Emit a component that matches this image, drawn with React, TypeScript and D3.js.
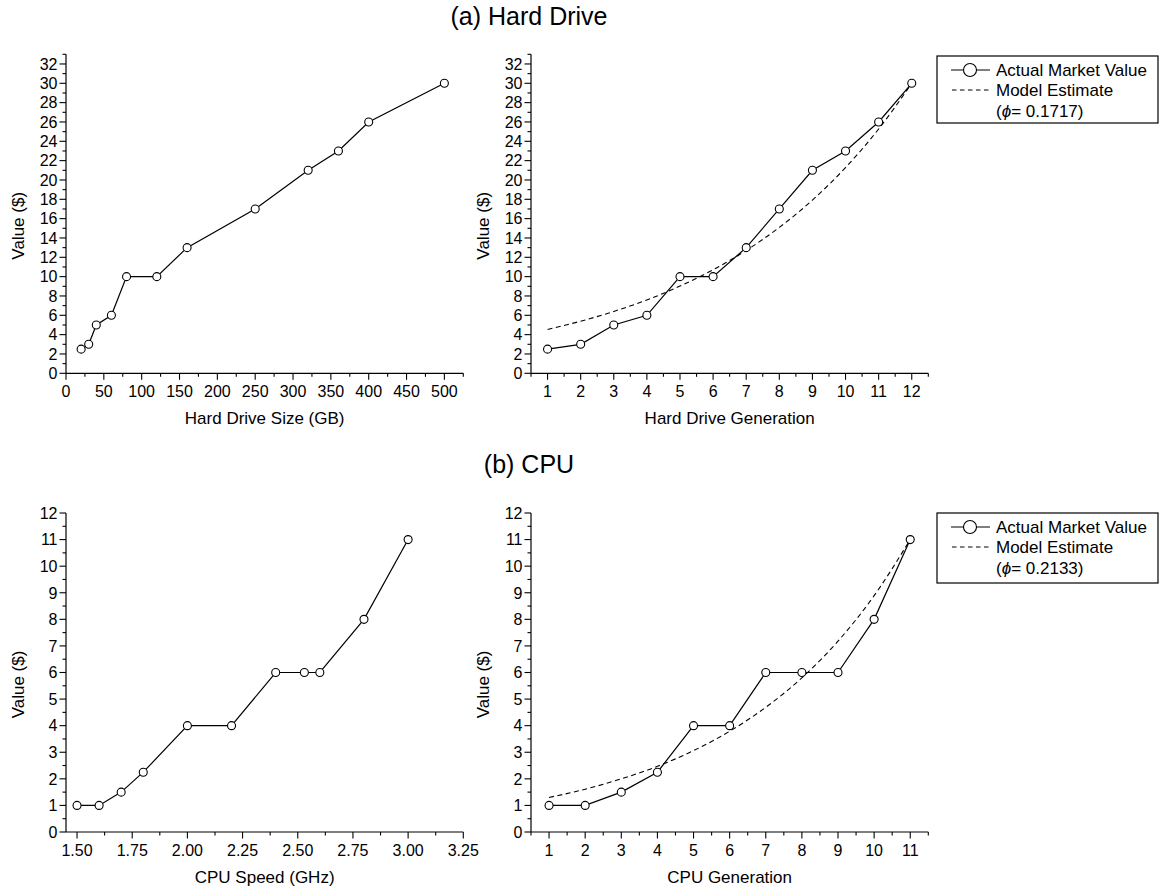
import React, { useEffect } from 'react';
import * as d3 from 'd3';

// ---------- data ----------
const hdSizes = [20, 30, 40, 60, 80, 120, 160, 250, 320, 360, 400, 500];
const hdValues = [2.5, 3, 5, 6, 10, 10, 13, 17, 21, 23, 26, 30];
const hdGenerations = [1, 2, 3, 4, 5, 6, 7, 8, 9, 10, 11, 12];
const hdModel = [4.54, 5.39, 6.4, 7.59, 9.02, 10.71, 12.71, 15.09, 17.92, 21.28, 25.27, 30];
const hdPhi = '0.1717';

const cpuSpeeds = [1.5, 1.6, 1.7, 1.8, 2.0, 2.2, 2.4, 2.53, 2.6, 2.8, 3.0];
const cpuValues = [1, 1, 1.5, 2.25, 4, 4, 6, 6, 6, 8, 11];
const cpuGenerations = [1, 2, 3, 4, 5, 6, 7, 8, 9, 10, 11];
const cpuModel = [1.3, 1.61, 2.0, 2.47, 3.06, 3.79, 4.69, 5.8, 7.18, 8.89, 11];
const cpuPhi = '0.2133';

// tick labels
const hdValueTicks = [0, 2, 4, 6, 8, 10, 12, 14, 16, 18, 20, 22, 24, 26, 28, 30, 32];
const hdSizeTicks = [0, 50, 100, 150, 200, 250, 300, 350, 400, 450, 500];
const hdGenTicks = [1, 2, 3, 4, 5, 6, 7, 8, 9, 10, 11, 12];
const cpuValueTicks = [0, 1, 2, 3, 4, 5, 6, 7, 8, 9, 10, 11, 12];
const cpuSpeedTicks = [1.5, 1.75, 2.0, 2.25, 2.5, 2.75, 3.0, 3.25];
const cpuGenTicks = [1, 2, 3, 4, 5, 6, 7, 8, 9, 10, 11];

const FONT = '"Liberation Sans", Arial, Helvetica, sans-serif';

type PanelProps = {
  left: number;
  right: number;
  top: number;
  bottom: number;
  xDomain: [number, number];
  yDomain: [number, number];
  xTicks: number[];
  xMinorStep: number;
  yTicks: number[];
  yMinorStep: number;
  xFormat: (v: number) => string;
  xLabel: string;
  xs: number[];
  ys: number[];
  model?: number[];
};

function minorTicks(domain: [number, number], step: number, majors: number[]) {
  const out: number[] = [];
  const start = Math.ceil((domain[0] - 1e-9) / step) * step;
  for (let v = start; v <= domain[1] + 1e-9; v += step) {
    const r = Math.round(v * 1000) / 1000;
    if (!majors.some((m) => Math.abs(m - r) < 1e-6)) out.push(r);
  }
  return out;
}

function Panel(p: PanelProps) {
  const x = d3.scaleLinear().domain(p.xDomain).range([p.left, p.right]);
  const y = d3.scaleLinear().domain(p.yDomain).range([p.bottom, p.top]);
  const line = d3
    .line<number>()
    .x((_, i) => x(p.xs[i]))
    .y((d) => y(d));
  const modelLine = d3
    .line<number>()
    .x((_, i) => x(p.xs[i]))
    .y((d) => y(d))
    .curve(d3.curveMonotoneX);
  const xMinor = minorTicks(p.xDomain, p.xMinorStep, p.xTicks);
  const yMinor = minorTicks(p.yDomain, p.yMinorStep, p.yTicks);
  const midY = (p.top + p.bottom) / 2 + 12;
  return (
    <g>
      {/* axes */}
      <line x1={p.left} x2={p.left} y1={p.top} y2={p.bottom} stroke="#000" strokeWidth={1.2} />
      <line x1={p.left} x2={p.right} y1={p.bottom} y2={p.bottom} stroke="#000" strokeWidth={1.2} />
      {p.yTicks.map((t) => (
        <g key={'yt' + t}>
          <line x1={p.left - 6.5} x2={p.left} y1={y(t)} y2={y(t)} stroke="#000" strokeWidth={1.1} />
          <text x={p.left - 8.5} y={y(t)} dy="0.36em" textAnchor="end" fontSize={16} fontFamily={FONT}>
            {t}
          </text>
        </g>
      ))}
      {yMinor.map((t) => (
        <line key={'ym' + t} x1={p.left - 3.5} x2={p.left} y1={y(t)} y2={y(t)} stroke="#000" strokeWidth={1.1} />
      ))}
      {p.xTicks.map((t) => (
        <g key={'xt' + t}>
          <line x1={x(t)} x2={x(t)} y1={p.bottom} y2={p.bottom + 6.5} stroke="#000" strokeWidth={1.1} />
          <text x={x(t)} y={p.bottom + 23.5} textAnchor="middle" fontSize={16} fontFamily={FONT}>
            {p.xFormat(t)}
          </text>
        </g>
      ))}
      {xMinor.map((t) => (
        <line key={'xm' + t} x1={x(t)} x2={x(t)} y1={p.bottom} y2={p.bottom + 3.5} stroke="#000" strokeWidth={1.1} />
      ))}
      <text
        x={(p.left + p.right) / 2}
        y={p.bottom + 51}
        textAnchor="middle"
        fontSize={17}
        fontFamily={FONT}
      >
        {p.xLabel}
      </text>
      <text
        transform={`translate(${p.left - 42},${midY}) rotate(-90)`}
        textAnchor="middle"
        fontSize={17}
        fontFamily={FONT}
      >
        Value ($)
      </text>
      {/* series */}
      {p.model && (
        <path d={modelLine(p.model) || ''} fill="none" stroke="#000" strokeWidth={1.1} strokeDasharray="5,3.5" />
      )}
      <path d={line(p.ys) || ''} fill="none" stroke="#000" strokeWidth={1.2} />
      {p.ys.map((v, i) => (
        <circle key={'c' + i} cx={x(p.xs[i])} cy={y(v)} r={4} fill="#fff" stroke="#000" strokeWidth={1.1} />
      ))}
    </g>
  );
}

function Legend({ left, right, top, bottom, phi }: { left: number; right: number; top: number; bottom: number; phi: string }) {
  const r1 = top + 14;
  const r2 = top + 34;
  const r3 = top + 55;
  return (
    <g fontFamily={FONT} fontSize={17}>
      <rect x={left} y={top} width={right - left} height={bottom - top} fill="#fff" stroke="#000" strokeWidth={1.2} />
      <line x1={left + 14} x2={left + 53} y1={r1} y2={r1} stroke="#000" strokeWidth={1.2} />
      <circle cx={left + 33} cy={r1} r={6.5} fill="#fff" stroke="#000" strokeWidth={1.1} />
      <text x={left + 59} y={r1 + 6}>Actual Market Value</text>
      <line x1={left + 15} x2={left + 53} y1={r2} y2={r2} stroke="#000" strokeWidth={1.1} strokeDasharray="4.5,3.5" />
      <text x={left + 59} y={r2 + 6}>Model Estimate</text>
      <text x={left + 59} y={r3 + 6}>
        (<tspan fontStyle="italic">ϕ</tspan>= {phi})
      </text>
    </g>
  );
}

export default function App() {
  useEffect(() => {
    document.body.style.margin = '0';
  }, []);
  const fmt0 = (v: number) => String(v);
  const fmt2 = (v: number) => d3.format('.2f')(v);
  return (
    <svg width={1164} height={895} style={{ display: 'block', background: '#fff' }}>
      <rect width={1164} height={895} fill="#fff" />
      <text x={529} y={25} textAnchor="middle" fontSize={25} fontFamily={FONT}>
        (a) Hard Drive
      </text>
      <text x={529} y={473} textAnchor="middle" fontSize={25} fontFamily={FONT}>
        (b) CPU
      </text>
      <Panel
        left={66}
        right={463.3}
        top={54.3}
        bottom={373.3}
        xDomain={[0, 525]}
        yDomain={[0, 33]}
        xTicks={hdSizeTicks}
        xMinorStep={25}
        yTicks={hdValueTicks}
        yMinorStep={1}
        xFormat={fmt0}
        xLabel="Hard Drive Size (GB)"
        xs={hdSizes}
        ys={hdValues}
      />
      <Panel
        left={531}
        right={928.3}
        top={54.3}
        bottom={373.3}
        xDomain={[0.5, 12.5]}
        yDomain={[0, 33]}
        xTicks={hdGenTicks}
        xMinorStep={0.5}
        yTicks={hdValueTicks}
        yMinorStep={1}
        xFormat={fmt0}
        xLabel="Hard Drive Generation"
        xs={hdGenerations}
        ys={hdValues}
        model={hdModel}
      />
      <Legend left={937} right={1158} top={56} bottom={123} phi={hdPhi} />
      <Panel
        left={66}
        right={463.3}
        top={513}
        bottom={832}
        xDomain={[1.45, 3.25]}
        yDomain={[0, 12]}
        xTicks={cpuSpeedTicks}
        xMinorStep={0.125}
        yTicks={cpuValueTicks}
        yMinorStep={0.5}
        xFormat={fmt2}
        xLabel="CPU Speed (GHz)"
        xs={cpuSpeeds}
        ys={cpuValues}
      />
      <Panel
        left={531}
        right={928.3}
        top={513}
        bottom={832}
        xDomain={[0.5, 11.5]}
        yDomain={[0, 12]}
        xTicks={cpuGenTicks}
        xMinorStep={0.5}
        yTicks={cpuValueTicks}
        yMinorStep={0.5}
        xFormat={fmt0}
        xLabel="CPU Generation"
        xs={cpuGenerations}
        ys={cpuValues}
        model={cpuModel}
      />
      <Legend left={937} right={1158} top={513} bottom={583} phi={cpuPhi} />
    </svg>
  );
}
